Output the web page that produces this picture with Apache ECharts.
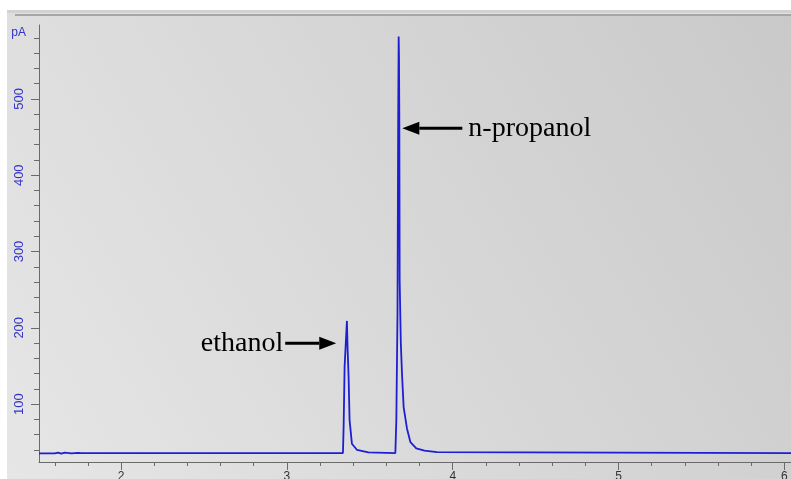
<!DOCTYPE html>
<html>
<head>
<meta charset="utf-8">
<script src="https://cdn.jsdelivr.net/npm/echarts@6/dist/echarts.min.js"></script>
<style>
  html, body { margin: 0; padding: 0; background: #fff; }
  #gc-chart { width: 791px; height: 479px; }
</style>
</head>
<body>
<div id="gc-chart"></div>
<script>
// retention time (min) and detector signal (pA)
const times = [
  1.505, 1.60, 1.62, 1.64, 1.66, 1.70, 1.74, 1.76,
  3.338, 3.342, 3.348, 3.354, 3.362, 3.366, 3.372, 3.378, 3.392, 3.422, 3.492,
  3.654, 3.660, 3.667, 3.671, 3.674, 3.676, 3.678, 3.680, 3.687, 3.694, 3.704,
  3.724, 3.745, 3.780, 3.830, 3.905, 3.912, 6.04
];
const signal = [
  35.2, 35.2, 36.4, 35.0, 36.2, 35.4, 36.0, 35.6,
  35.7, 70, 149, 175, 209, 173, 136, 79, 48, 40, 36.6,
  35.7, 79, 219, 470, 582, 555, 472, 262, 180, 140, 96,
  68, 50, 42, 39, 37, 35.7, 35.7
];

// axis ticks
const xMajor = [2, 3, 4, 5, 6];
const xMinor = [1.6, 1.8, 2.2, 2.4, 2.6, 2.8, 3.2, 3.4, 3.6, 3.8, 4.2, 4.4, 4.6, 4.8, 5.2, 5.4, 5.6, 5.8];
const yMajor = [100, 200, 300, 400, 500];
const yMinor = [40, 60, 80, 120, 140, 160, 180, 220, 240, 260, 280, 320, 340, 360, 380, 420, 440, 460, 480, 520, 540, 560, 580];

// peak annotations: label and the point the arrow tip touches
const peakNames = ['ethanol', 'n-propanol'];
const arrowTips = [[3.2975, 179.6], [3.696, 461.6]];

const xRange = [1.505, 6.04];
const yRange = [24, 597];

const blue = '#1e1ed2';
const labelBlue = '#3232c8';
const axisGrey = '#6a6a6a';

const chart = echarts.init(document.getElementById('gc-chart'));

const option = {
  backgroundColor: '#fff',
  animation: false,
  grid: {
    left: 39,
    right: 0,
    top: 25,
    bottom: 17,
    containLabel: false,
    outerBoundsMode: 'none'
  },
  xAxis: [
    {
      type: 'value',
      min: xRange[0],
      max: xRange[1],
      position: 'bottom',
      splitLine: { show: false },
      axisLine: { lineStyle: { color: axisGrey, width: 1 } },
      axisTick: { customValues: xMajor, length: 8, lineStyle: { color: axisGrey } },
      axisLabel: {
        customValues: xMajor,
        margin: 9,
        fontSize: 12,
        fontFamily: 'Liberation Sans',
        color: '#333'
      }
    },
    {
      type: 'value',
      min: xRange[0],
      max: xRange[1],
      position: 'bottom',
      splitLine: { show: false },
      axisLine: { show: false },
      axisTick: { customValues: xMinor, length: 4, lineStyle: { color: axisGrey } },
      axisLabel: { show: false }
    }
  ],
  yAxis: [
    {
      type: 'value',
      min: yRange[0],
      max: yRange[1],
      position: 'left',
      name: 'pA',
      nameLocation: 'end',
      nameGap: -8,
      nameTextStyle: {
        color: labelBlue,
        fontSize: 12,
        fontFamily: 'Liberation Sans',
        align: 'right',
        verticalAlign: 'middle',
        padding: [0, 13, 0, 0]
      },
      splitLine: { show: false },
      axisLine: { show: true, lineStyle: { color: axisGrey, width: 1 } },
      axisTick: { show: true, customValues: yMajor, length: 8, lineStyle: { color: axisGrey } },
      axisLabel: {
        customValues: yMajor,
        rotate: 90,
        margin: 13,
        fontSize: 13,
        fontFamily: 'Liberation Sans',
        color: labelBlue
      }
    },
    {
      type: 'value',
      min: yRange[0],
      max: yRange[1],
      position: 'left',
      splitLine: { show: false },
      axisLine: { show: false },
      axisTick: { show: true, customValues: yMinor, length: 5, lineStyle: { color: axisGrey } },
      axisLabel: { show: false }
    }
  ],
  series: [
    {
      type: 'line',
      xAxisIndex: 0,
      yAxisIndex: 0,
      showSymbol: false,
      smooth: false,
      lineStyle: { color: blue, width: 1.8 },
      data: times.map((t, i) => [t, signal[i]])
    }
  ]
};

chart.setOption(option);

// background panel + top rule, then arrows placed from data coords
const graphics = [
  {
    type: 'rect',
    z: -10,
    shape: { x: 7, y: 10, width: 784, height: 469 },
    style: {
      fill: new echarts.graphic.LinearGradient(0, 1, 1, 0, [
        { offset: 0, color: '#e6e6e6' },
        { offset: 1, color: '#c9c9c9' }
      ])
    },
    silent: true
  },
  { type: 'rect', z: -9, shape: { x: 7, y: 10, width: 784, height: 3 }, style: { fill: '#d2d2d2' }, silent: true },
  { type: 'rect', z: -9, shape: { x: 15, y: 13, width: 776, height: 1 }, style: { fill: '#e2e2e2' }, silent: true },
  { type: 'rect', z: -9, shape: { x: 15, y: 14, width: 776, height: 2 }, style: { fill: '#a6a6a6' }, silent: true }
];

const shafts = [51, 60];
const textGaps = [2, 6];
arrowTips.forEach((tip, i) => {
  const p = chart.convertToPixel({ gridIndex: 0 }, tip);
  const dir = i === 0 ? -1 : 1; // text side relative to tip
  const headLen = 17, headHalf = 6.5;
  graphics.push({
    type: 'line',
    z: 10,
    shape: { x1: p[0] + dir * headLen, y1: p[1], x2: p[0] + dir * shafts[i], y2: p[1] },
    style: { stroke: '#000', lineWidth: 3 },
    silent: true
  });
  graphics.push({
    type: 'polygon',
    z: 10,
    shape: { points: [[p[0], p[1]], [p[0] + dir * headLen, p[1] - headHalf], [p[0] + dir * headLen, p[1] + headHalf]] },
    style: { fill: '#000' },
    silent: true
  });
  graphics.push({
    type: 'text',
    z: 10,
    x: p[0] + dir * (shafts[i] + textGaps[i]),
    y: p[1],
    style: {
      text: peakNames[i],
      fill: '#000',
      font: '28px "Liberation Serif"',
      align: dir < 0 ? 'right' : 'left',
      verticalAlign: 'middle'
    },
    silent: true
  });
});

chart.setOption({ graphic: graphics });
</script>
</body>
</html>
